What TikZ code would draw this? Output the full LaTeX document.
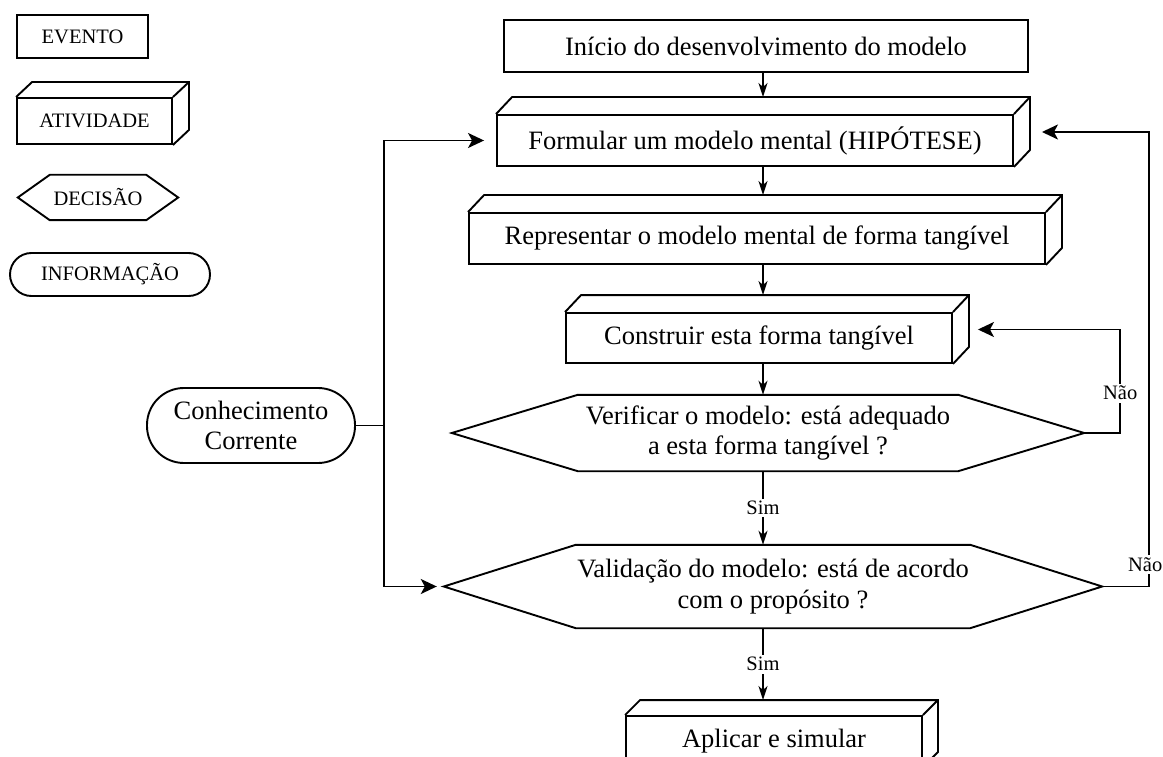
\documentclass[tikz,border=0pt]{standalone}
\usepackage{fontspec}
\setmainfont{Liberation Serif}
\usetikzlibrary{calc,arrows.meta}

% text sizes
\newcommand{\bigtxt}{\fontsize{26.5}{30.5}\selectfont}
\newcommand{\smalltxt}{\fontsize{20.5}{24}\selectfont}

% extruded faces (top and right) of an activity box
\newcommand{\solidfaces}[3]{%
  \draw[outline] (#1.north west) -- ++(#2,#3)
    -- ($(#1.north east)+(#2,#3)$) -- ($(#1.south east)+(#2,#3)$) -- (#1.south east)
    (#1.north east) -- ++(#2,#3);}

% hexagonal outline of a decision node
\newcommand{\hexoutline}[2]{%
  \draw[outline] (#1.west) -- ($(#1.north west)+(#2,0pt)$) -- ($(#1.north east)+(-#2,0pt)$)
    -- (#1.east) -- ($(#1.south east)+(-#2,0pt)$) -- ($(#1.south west)+(#2,0pt)$) -- cycle;}

\tikzset{
  outline/.style={line width=1.9pt, line join=miter},
  box/.style={draw, outline, rectangle, inner sep=0pt, align=center},
  plain/.style={rectangle, inner sep=0pt, align=center},
  info/.style={draw, outline, rectangle, rounded corners=#1, inner sep=0pt, align=center},
  flow/.style={line width=1.6pt, -{Stealth[length=14pt,width=9pt,inset=4pt]}},
  feedback/.style={line width=1.9pt, -{Stealth[length=16pt,width=15pt,inset=4pt]}},
  link/.style={line width=1.9pt},
  lbl/.style={fill=white, font=\smalltxt, inner sep=2.5pt},
}

\begin{document}
\begin{tikzpicture}[x=1pt, y=-1pt]
\useasboundingbox (0,0) rectangle (1163,757);
\clip (0,0) rectangle (1163,757);

% ---------- legend ----------
\node[box, font=\smalltxt, minimum width=131pt, minimum height=43pt] (evento) at (82.5,36.5) {EVENTO};
\node[box, font=\smalltxt, minimum width=155pt, minimum height=46pt] (atividade) at (94.5,121) {ATIVIDADE};
\solidfaces{atividade}{16pt}{15pt}
\node[plain, font=\smalltxt, minimum width=160pt, minimum height=45pt] (decisao) at (98,197.5) {DECISÃO};
\hexoutline{decisao}{32pt}
\node[info=21.5pt, font=\smalltxt, minimum width=200pt, minimum height=43pt] (informacao) at (110,274.5) {INFORMAÇÃO};

% ---------- main flow ----------
\coordinate (axis) at (763,0);

\node[box, font=\bigtxt, minimum width=524pt, minimum height=52pt] (inicio) at (766,46) {Início do desenvolvimento do modelo};

\node[box, font=\bigtxt, minimum width=516pt, minimum height=51pt] (formular) at (755,140.5) {Formular um modelo mental (HIPÓTESE)};
\solidfaces{formular}{16pt}{17pt}
\coordinate (formular-top) at ($(formular.north)+(0pt,17pt)$);
\coordinate (formular-side) at ($(formular.east)+(8pt,8.5pt)$);

\node[box, font=\bigtxt, minimum width=576pt, minimum height=51pt] (representar) at (757,238.5) {Representar o modelo mental de forma tangível};
\solidfaces{representar}{16pt}{17pt}
\coordinate (representar-top) at ($(representar.north)+(0pt,17pt)$);

\node[box, font=\bigtxt, minimum width=386pt, minimum height=50pt] (construir) at (759,338) {Construir esta forma tangível};
\solidfaces{construir}{16pt}{17pt}
\coordinate (construir-top) at ($(construir.north)+(0pt,17pt)$);
\coordinate (construir-side) at ($(construir.east)+(8pt,8.5pt)$);

\node[plain, font=\bigtxt, minimum width=632pt, minimum height=76pt] (verificar) at (768,433)
  {Verificar o modelo: está adequado\\a esta forma tangível ?};
\hexoutline{verificar}{126pt}

\node[plain, font=\bigtxt, minimum width=658pt, minimum height=83pt] (validacao) at (773,586.5)
  {Validação do modelo: está de acordo\\com o propósito ?};
\hexoutline{validacao}{132pt}

\node[box, font=\bigtxt, minimum width=296pt, minimum height=50pt] (aplicar) at (774,741) {Aplicar e simular};
\solidfaces{aplicar}{15pt}{15pt}
\coordinate (aplicar-top) at ($(aplicar.north)+(0pt,15pt)$);

\node[info=37pt, font=\bigtxt, minimum width=208pt, minimum height=75pt] (conhecimento) at (251,425.5)
  {Conhecimento\\Corrente};

% ---------- connectors ----------
\draw[flow] (inicio.south -| axis) -- (axis |- formular-top);
\draw[flow] (formular.south -| axis) -- (axis |- representar-top);
\draw[flow] (representar.south -| axis) -- (axis |- construir-top);
\draw[flow] (construir.south -| axis) -- (axis |- verificar.north);
\draw[flow] (verificar.south -| axis) -- node[lbl] {Sim} (axis |- validacao.north);
\draw[flow] (validacao.south -| axis) -- node[lbl] {Sim} (axis |- aplicar-top);

% current knowledge feeds the hypothesis and the validation
\coordinate (junction) at ($(conhecimento.east)+(28pt,0pt)$);
\draw[link] (conhecimento.east) -- (junction);
\draw[feedback, shorten >=12pt] (junction) |- (formular.west);
\draw[feedback, shorten >=7pt] (junction) |- (validacao.west);

% loops back on failure
\draw[feedback, shorten >=17pt] (verificar.east) -- ++(36pt,0pt)
  |- node[lbl, pos=0.193] {Não} (construir-side);
\draw[feedback, shorten >=20pt] (validacao.east) -- ++(47pt,0pt)
  |- node[lbl, pos=0.024, xshift=-4pt] {Não} (formular-side);
\end{tikzpicture}
\end{document}
